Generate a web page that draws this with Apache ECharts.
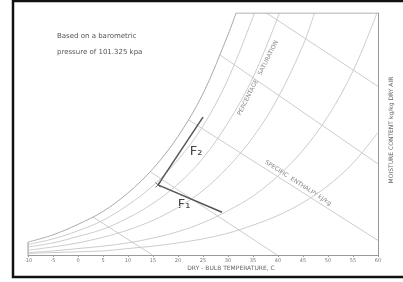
<!DOCTYPE html>
<html>
<head>
<meta charset="utf-8">
<script src="https://cdn.jsdelivr.net/npm/echarts@6/dist/echarts.min.js"></script>
<style>
  html, body { margin: 0; padding: 0; background: #fff; }
  #chart { width: 403px; height: 282px; }
</style>
</head>
<body>
<div id="chart"></div>
<script>
// moisture content g/kg against dry bulb temperature
var rh100 = [[-10, 1.6], [-5, 2.5], [0, 3.8], [5, 5.4], [10, 7.7], [15, 10.7], [20, 14.7], [25, 20.0], [30, 27.3], [31.6, 30]]
var rh80 = [[-10, 1.3], [-5, 2.0], [0, 3.0], [5, 4.3], [10, 6.2], [15, 8.6], [20, 11.8], [25, 16.0], [30, 21.8], [35.3, 30]]
var rh60 = [[-10, 1.0], [-5, 1.5], [0, 2.3], [5, 3.2], [10, 4.6], [15, 6.4], [20, 8.8], [25, 12.0], [30, 16.4], [35, 22.0], [40.3, 30]]
var rh40 = [[-10, 0.6], [-5, 1.0], [0, 1.5], [5, 2.2], [10, 3.1], [15, 4.3], [20, 5.9], [25, 8.0], [30, 10.9], [35, 14.6], [40, 19.5], [45, 26.0], [47.3, 30]]
var rh20 = [[-10, 0.3], [-5, 0.5], [0, 0.8], [5, 1.1], [10, 1.5], [15, 2.1], [20, 2.9], [25, 4.0], [30, 5.5], [35, 7.3], [40, 9.8], [45, 13.0], [50, 17.2], [55, 22.8], [59.8, 30]]
var rh10 = [[-10, 0.2], [-5, 0.3], [0, 0.4], [5, 0.5], [10, 0.8], [15, 1.1], [20, 1.5], [25, 2.0], [30, 2.7], [35, 3.7], [40, 4.9], [45, 6.5], [50, 8.6], [55, 11.4], [60, 15.2]]

// enthalpy lines (start, end)
var h15 = [[3, 4.7], [14.9, 0]]
var h40 = [[14.5, 10.3], [39.8, 0]]
var h65 = [[22, 16.8], [60, 1.8]]
var h90 = [[28.4, 24.8], [60, 11.3]]
var h115 = [[37.7, 30], [60, 20.9]]

// chart outline pieces
var topEdge = [[31.6, 30], [60, 30]]
var leftEdge = [[-10, 0], [-10, 1.6]]

// saturation curve labels and top labels
var satLabels = [[-10, 1.6, '-10'], [-5, 2.5, '-5'], [0, 3.8, '0'], [5, 5.4, '5'], [10, 7.7, '10'], [15, 10.7, '15'], [20, 14.7, '20'], [25, 20.0, '25'], [30, 27.3, '30']]
var topLabels = [[35.3, 30, '80'], [40.3, 30, '60'], [47.3, 30, '40']]

// process lines
var lineF2 = [[16, 8.7], [25, 17.1]]
var lineF1 = [[16, 8.7], [28.8, 5.3]]

var chart = echarts.init(document.getElementById('chart'))

var grey = '#cccccc'
function curve (data) {
  return { type: 'line', data: data, smooth: 0.35, symbol: 'none', silent: true, lineStyle: { color: grey, width: 1 } }
}
function straight (data, color, width) {
  return { type: 'line', data: data, symbol: 'none', silent: true, lineStyle: { color: color, width: width } }
}

chart.setOption({
  animation: false,
  grid: { left: 28, right: 25, top: 13, bottom: 27 },
  xAxis: {
    type: 'value',
    min: -10,
    max: 60,
    interval: 5,
    axisLine: { onZero: false, lineStyle: { color: '#999' } },
    axisTick: { length: 2, lineStyle: { color: '#999' } },
    axisLabel: { fontSize: 5, color: '#777', margin: 3, fontFamily: 'DejaVu Sans' },
    splitLine: { show: false }
  },
  yAxis: {
    type: 'value',
    position: 'right',
    min: 0,
    max: 30,
    axisLine: { show: true, onZero: false, lineStyle: { color: '#999' } },
    axisTick: { show: false },
    axisLabel: { show: false },
    splitLine: { show: false }
  },
  series: [
    curve(rh80), curve(rh60), curve(rh40), curve(rh20), curve(rh10),
    straight(h15, grey, 1), straight(h40, grey, 1), straight(h65, grey, 1), straight(h90, grey, 1), straight(h115, grey, 1),
    { type: 'line', data: rh100, smooth: 0.35, symbol: 'none', silent: true, lineStyle: { color: '#aaa', width: 1 } },
    straight(topEdge, '#999', 1),
    straight(leftEdge, '#999', 1),
    straight(lineF2, '#555', 1.5),
    straight(lineF1, '#555', 1.5),
    {
      type: 'scatter',
      data: [lineF2[0]],
      symbol: 'path://M0,0L10,10M10,0L0,10',
      symbolSize: 5,
      itemStyle: { color: 'none', borderColor: '#444', borderWidth: 1 }
    },
    {
      type: 'scatter',
      data: satLabels,
      symbolSize: 1,
      itemStyle: { opacity: 0 },
      label: {
        show: true,
        position: 'inside',
        offset: [-5, -5],
        fontSize: 5,
        color: '#777',
        fontFamily: 'DejaVu Sans',
        formatter: function (p) { return p.data[2] }
      }
    },
    {
      type: 'scatter',
      data: topLabels,
      symbolSize: 1,
      itemStyle: { opacity: 0 },
      label: {
        show: true,
        position: 'inside',
        offset: [4, -6],
        fontSize: 5,
        color: '#777',
        fontFamily: 'DejaVu Sans',
        formatter: function (p) { return p.data[2] }
      }
    }
  ],
  graphic: [
    { type: 'rect', shape: { x: 13, y: 1, width: 400, height: 276 }, style: { fill: 'none', stroke: '#111', lineWidth: 2.5 }, silent: true },
    { type: 'text', left: 57, top: 33, style: { text: 'Based on a barometric', fontSize: 7, fill: '#555', fontFamily: 'DejaVu Sans' } },
    { type: 'text', left: 57, top: 49, style: { text: 'pressure of 101.325 kpa', fontSize: 7, fill: '#555', fontFamily: 'DejaVu Sans' } },
    { type: 'text', x: 231, y: 268, style: { text: 'DRY - BULB TEMPERATURE, C', fontSize: 6, fill: '#666', align: 'center', verticalAlign: 'middle', fontFamily: 'DejaVu Sans' } },
    { type: 'text', x: 391, y: 130, rotation: Math.PI / 2, style: { text: 'MOISTURE CONTENT kg/kg DRY AIR', fontSize: 6, fill: '#666', align: 'center', verticalAlign: 'middle', fontFamily: 'DejaVu Sans' } },
    { type: 'text', x: 258, y: 78, rotation: 63 * Math.PI / 180, style: { text: 'PERCENTAGE   SATURATION', fontSize: 6, fill: '#888', align: 'center', verticalAlign: 'middle', fontFamily: 'DejaVu Sans' } },
    { type: 'text', x: 298, y: 183, rotation: -33 * Math.PI / 180, style: { text: 'SPECIFIC  ENTHALPY kJ/kg', fontSize: 6, fill: '#888', align: 'center', verticalAlign: 'middle', fontFamily: 'DejaVu Sans' } },
    { type: 'text', x: 196, y: 152, style: { text: 'F\u2082', fontSize: 13, fill: '#444', align: 'center', verticalAlign: 'middle', fontFamily: 'DejaVu Sans' } },
    { type: 'text', x: 184, y: 205, style: { text: 'F\u2081', fontSize: 13, fill: '#444', align: 'center', verticalAlign: 'middle', fontFamily: 'DejaVu Sans' } }
  ]
})
</script>
</body>
</html>
